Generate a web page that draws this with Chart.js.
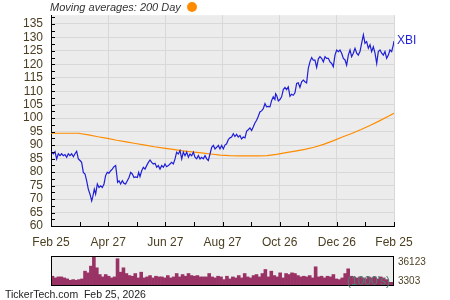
<!DOCTYPE html>
<html>
<head>
<meta charset="utf-8">
<script src="https://cdn.jsdelivr.net/npm/chart.js@4.4.1/dist/chart.umd.min.js"></script>
<style>
  body { margin: 0; background: #fff; }
  #wrap { position: relative; width: 450px; height: 300px; font-family: 'Liberation Sans', Arial, sans-serif; }
  #wrap canvas { position: absolute; left: 0; }
  .lbl { position: absolute; white-space: nowrap; line-height: 1; }
</style>
</head>
<body>
<div id="wrap">
  <canvas id="price" width="450" height="250" style="top:0"></canvas>
  <canvas id="volume" width="450" height="40" style="top:250px"></canvas>
  <div class="lbl" style="left:50px;top:2px;font-size:11px;font-style:italic;color:#333">Moving averages: 200 Day</div>
  <div class="lbl" style="left:187px;top:2px;width:10px;height:10px;border-radius:50%;background:#ff8c00"></div>
  <div class="lbl" style="left:397px;top:34px;font-size:12px;color:#1f1fd6">XBI</div>
  <div class="lbl" style="left:398px;top:257px;font-size:10px;color:#4b3f22">36123</div>
  <div class="lbl" style="left:398px;top:276px;font-size:10px;color:#4b3f22">3303</div>
  <div class="lbl" style="left:347px;top:275px;font-size:12px;color:#4d7f70">(1000's)</div>
  <div class="lbl" style="left:5px;top:289px;font-size:10.5px;color:#222">TickerTech.com&nbsp;&nbsp;Feb 25, 2026</div>
</div>
<script>
// tick labels
const xLabels = ['Feb 25', 'Apr 27', 'Jun 27', 'Aug 27', 'Oct 26', 'Dec 26', 'Feb 25'];
const yMin = 60;
const yMax = 138.2;

// XBI close, day offset from Feb 25 2025
const priceDays = [
  0, 2.5, 4.3, 6, 7.8, 9.6, 11.3, 13.1, 14.9, 16.7,
  18.4, 20.2, 22, 23.8, 25.5, 27.3, 29.1, 30.9, 32.6, 34.4,
  36.2, 37.9, 39.7, 41.5, 43.3, 44.3, 46.1, 47.5, 49.3, 51.1,
  52.8, 54.6, 56.4, 58.1, 59.9, 61.7, 63.5, 65.2, 67, 68.8,
  69.9, 70.9, 72.4, 74.1, 75.9, 77.7, 79.4, 81.2, 83, 84.8,
  86.5, 88.3, 90.1, 91.9, 93.3, 94.7, 96.5, 98.3, 100, 101.8,
  103.6, 105.4, 107.1, 108.9, 110.7, 112.5, 114.2, 116, 117.8, 119.6,
  121.3, 123.1, 124.9, 126.6, 128.4, 130.2, 132, 133.7, 135.5, 137.3,
  139.1, 140.8, 142.6, 144.4, 146.2, 147.9, 149.7, 151.5, 153.2, 155,
  156.8, 158.6, 160.3, 162.1, 163.9, 165.7, 167.4, 169.2, 171, 172.8,
  174.5, 176.3, 178.1, 179.8, 181.6, 183.4, 185.1, 186.9, 188.7, 190.4,
  192.2, 194, 195.7, 197.5, 199.3, 201.1, 202.8, 204.6, 206.4, 208.2,
  209.9, 211.7, 213.5, 215.2, 217, 218.8, 220.6, 222.3, 224.1, 225.9,
  227.7, 229.4, 231.2, 233, 234.8, 236.5, 238.3, 239, 240.1, 241.9,
  243.6, 245.4, 247.2, 249, 250.7, 252.5, 254.3, 256, 257.8, 259.6,
  261.4, 263.1, 264.9, 266.7, 268.5, 270.2, 272, 273.8, 275.6, 277.4,
  279.1, 280.9, 282.7, 284.5, 286.2, 288, 289.8, 291.6, 293.3, 295.1,
  296.9, 298.7, 300.4, 302.2, 304, 305.8, 307.5, 309.3, 311.1, 312.9,
  314.6, 316.4, 318.2, 319.9, 321.7, 323.5, 325.3, 327, 328.8, 330.6,
  332.4, 334.1, 335.9, 337.7, 339.5, 341.2, 343, 344.8, 346.6, 348.3,
  350.1, 351.9, 353.6, 355.4, 357.2, 359, 360.7, 362.5, 364.3, 365
];
const prices = [
  87.7, 86.8, 87.6, 84.9, 86.8, 86.1, 86.8, 86.1, 86.5, 85.5,
  86.8, 86.1, 86.8, 85.7, 86.8, 87.7, 84.9, 84.3, 83.6, 79.9,
  79.3, 76.8, 73.7, 71.8, 69.3, 70.6, 73.7, 71.8, 75.6, 74.3,
  74.9, 74.3, 75.6, 78.7, 79.9, 79.6, 80.5, 81.1, 82.0, 82.4,
  79.3, 76.2, 76.8, 75.6, 76.8, 75.8, 75.6, 76.8, 78.0, 79.9,
  79.3, 78.0, 78.2, 78.0, 79.9, 78.3, 80.5, 81.8, 81.1, 82.4,
  83.6, 84.5, 83.6, 83.0, 83.3, 81.8, 82.4, 81.1, 82.4, 81.8,
  83.0, 82.0, 82.4, 83.0, 83.6, 83.0, 84.9, 87.4, 86.7, 88.0,
  84.9, 87.4, 86.1, 87.4, 85.5, 86.7, 86.1, 87.4, 85.5, 84.9,
  86.1, 84.9, 85.5, 84.9, 86.1, 84.9, 84.3, 86.7, 89.2, 89.9,
  88.6, 89.2, 89.9, 88.6, 89.9, 88.6, 90.0, 90.5, 92.1, 92.7,
  93.0, 94.2, 93.2, 94.0, 93.0, 93.6, 92.3, 93.0, 92.7, 95.2,
  95.7, 96.4, 95.4, 96.7, 98.2, 99.2, 100.7, 102.3, 102.7, 103.5,
  105.4, 104.2, 104.4, 104.2, 106.6, 107.9, 106.9, 109.1, 108.5, 106.4,
  106.9, 107.9, 110.6, 111.4, 110.6, 111.6, 108.1, 108.9, 108.5, 109.4,
  112.9, 113.1, 111.4, 113.5, 114.1, 113.5, 113.1, 118.5, 121.0, 122.5,
  121.5, 121.5, 118.8, 122.0, 122.8, 122.2, 120.9, 122.8, 122.2, 122.2,
  120.9, 120.3, 119.1, 123.4, 125.3, 124.7, 125.3, 124.1, 122.2, 121.6,
  119.7, 123.4, 125.3, 122.8, 124.1, 125.9, 124.1, 123.4, 124.7, 127.8,
  130.9, 127.8, 128.4, 125.9, 127.2, 124.7, 126.5, 124.1, 120.3, 124.7,
  125.3, 124.1, 123.4, 124.7, 122.2, 123.4, 125.3, 124.7, 127.2, 128.6
];

// 200 day moving average
const maDays = [0, 29, 40, 50, 60, 70, 80, 90, 100, 110, 120, 130, 140, 150, 160, 170, 180, 190,
  200, 210, 220, 230, 240, 250, 260, 270, 280, 290, 300, 310, 320, 330, 340, 350, 360, 365];
const maValues = [94.4, 94.4, 93.8, 93.1, 92.5, 91.8, 91.2, 90.6, 90.0, 89.4, 88.9, 88.4, 87.9, 87.5, 87.1, 86.7, 86.3, 86.1,
  86.0, 86.0, 86.0, 86.1, 86.6, 87.2, 87.8, 88.4, 89.2, 90.3, 91.6, 93.0, 94.3, 95.8, 97.4, 99.1, 100.9, 101.8];

// volume in 1000's
const volumes = [
  10920, 8820, 10080, 10080, 8820, 7560, 5880, 6720, 5880, 6720,
  7560, 17220, 15120, 23520, 36123, 21420, 13020, 10080, 13020, 10920,
  8820, 10080, 32760, 15960, 21420, 14280, 11760, 10920, 14280, 8820,
  15960, 8820, 10080, 11760, 8820, 10920, 10080, 10080, 8820, 11760,
  8820, 10080, 14280, 10080, 13020, 10920, 14280, 11760, 10920, 11760,
  10080, 10080, 10080, 14280, 10080, 8820, 10920, 10080,
  6720, 10920, 7560, 10080, 8820, 11760, 8820, 14280, 10080, 8820,
  11760, 13020, 10080, 14280, 19320, 10080, 17220, 11760, 10080, 15120,
  8820, 14280, 13020, 15120, 14280, 11760, 10080, 10920, 10080, 11760,
  8820, 22680, 10080, 10920, 8820, 10920, 10080, 13020, 7560, 6720,
  8820, 14280, 20160, 10920, 10080, 8820, 10080, 8820, 7560, 10080,
  8820, 10080, 7560, 10080, 8820, 6720, 3360, 3303
];
const volumeMax = 36123;

const labelColor = '#4b3f22';
const gridColor = '#d8d8d8';
const plotBg = '#ececec';

// grey plot background plus short inward tick marks
const plotDecor = {
  id: 'plotDecor',
  beforeDraw(chart) {
    const a = chart.chartArea;
    chart.ctx.save();
    chart.ctx.fillStyle = plotBg;
    chart.ctx.fillRect(a.left, a.top, a.right - a.left, a.bottom - a.top);
    chart.ctx.restore();
  },
  afterDraw(chart) {
    const { ctx, chartArea: a, scales } = chart;
    ctx.save();
    ctx.strokeStyle = '#000';
    ctx.lineWidth = 1;
    ctx.beginPath();
    scales.x.ticks.forEach(t => {
      const px = Math.round(scales.x.getPixelForValue(t.value)) + 0.5;
      ctx.moveTo(px, a.bottom);
      ctx.lineTo(px, a.bottom - 4);
    });
    scales.y.ticks.forEach(t => {
      const py = Math.round(scales.y.getPixelForValue(t.value)) + 0.5;
      ctx.moveTo(a.left, py);
      ctx.lineTo(a.left + 4, py);
    });
    ctx.stroke();
    ctx.restore();
  }
};

new Chart(document.getElementById('price'), {
  type: 'line',
  data: {
    datasets: [
      {
        label: 'XBI',
        data: priceDays.map((d, i) => ({ x: d, y: prices[i] })),
        borderColor: '#1f1fd6',
        borderWidth: 1.2,
        pointRadius: 0,
        tension: 0
      },
      {
        label: '200 Day',
        data: maDays.map((d, i) => ({ x: d, y: maValues[i] })),
        borderColor: '#ff8c00',
        borderWidth: 1.2,
        pointRadius: 0,
        tension: 0
      }
    ]
  },
  options: {
    responsive: false,
    animation: false,
    layout: { padding: { top: 15, right: 56, left: 0, bottom: 0 } },
    plugins: { legend: { display: false }, tooltip: { enabled: false } },
    scales: {
      x: {
        type: 'linear',
        min: 0,
        max: 365,
        afterBuildTicks: scale => {
          // one tick per month, label every second one
          scale.ticks = [];
          for (let i = 0; i <= 12; i++) scale.ticks.push({ value: i * 365 / 12 });
        },
        afterFit: scale => { scale.height = 24; },
        grid: {
          drawTicks: false,
          color: ctx => (ctx.index % 2 === 0 ? gridColor : 'rgba(0,0,0,0)')
        },
        border: { display: true, color: '#000', width: 1 },
        ticks: {
          autoSkip: false,
          maxRotation: 0,
          padding: 9,
          color: labelColor,
          font: { family: 'Liberation Sans', size: 12 },
          callback: (v, i) => (i % 2 === 0 ? xLabels[i / 2] : '')
        }
      },
      y: {
        min: yMin,
        max: yMax,
        afterBuildTicks: scale => {
          scale.ticks = [];
          for (let v = yMin; v <= yMax; v += 2.5) scale.ticks.push({ value: v });
        },
        afterFit: scale => { scale.width = 51; },
        grid: {
          drawTicks: false,
          color: ctx => (ctx.tick && ctx.tick.value % 5 === 0 ? gridColor : 'rgba(0,0,0,0)')
        },
        border: { display: true, color: '#000', width: 1 },
        ticks: {
          autoSkip: false,
          padding: 8,
          color: labelColor,
          font: { family: 'Liberation Sans', size: 12 },
          callback: v => (v % 5 === 0 && v <= 135 ? String(v) : '')
        }
      }
    }
  },
  plugins: [plotDecor]
});

// volume panel
const volumeFrame = {
  id: 'volumeFrame',
  beforeDraw(chart) {
    const a = chart.chartArea;
    chart.ctx.save();
    chart.ctx.fillStyle = plotBg;
    chart.ctx.fillRect(a.left, a.top, a.right - a.left, a.bottom - a.top);
    chart.ctx.restore();
  },
  afterDraw(chart) {
    const a = chart.chartArea;
    chart.ctx.save();
    chart.ctx.strokeStyle = '#000';
    chart.ctx.lineWidth = 1;
    chart.ctx.strokeRect(a.left + 0.5, a.top + 0.5, a.right - a.left - 1, a.bottom - a.top);
    chart.ctx.restore();
  }
};

new Chart(document.getElementById('volume'), {
  type: 'bar',
  data: {
    labels: volumes.map((v, i) => i),
    datasets: [{
      data: volumes,
      backgroundColor: '#993366',
      borderWidth: 0,
      barPercentage: 1,
      categoryPercentage: 1
    }]
  },
  options: {
    responsive: false,
    animation: false,
    layout: { padding: { top: 6, right: 56, left: 51, bottom: 5 } },
    plugins: { legend: { display: false }, tooltip: { enabled: false } },
    scales: {
      x: { display: false },
      y: { display: false, min: 0, max: volumeMax }
    }
  },
  plugins: [volumeFrame]
});
</script>
</body>
</html>
